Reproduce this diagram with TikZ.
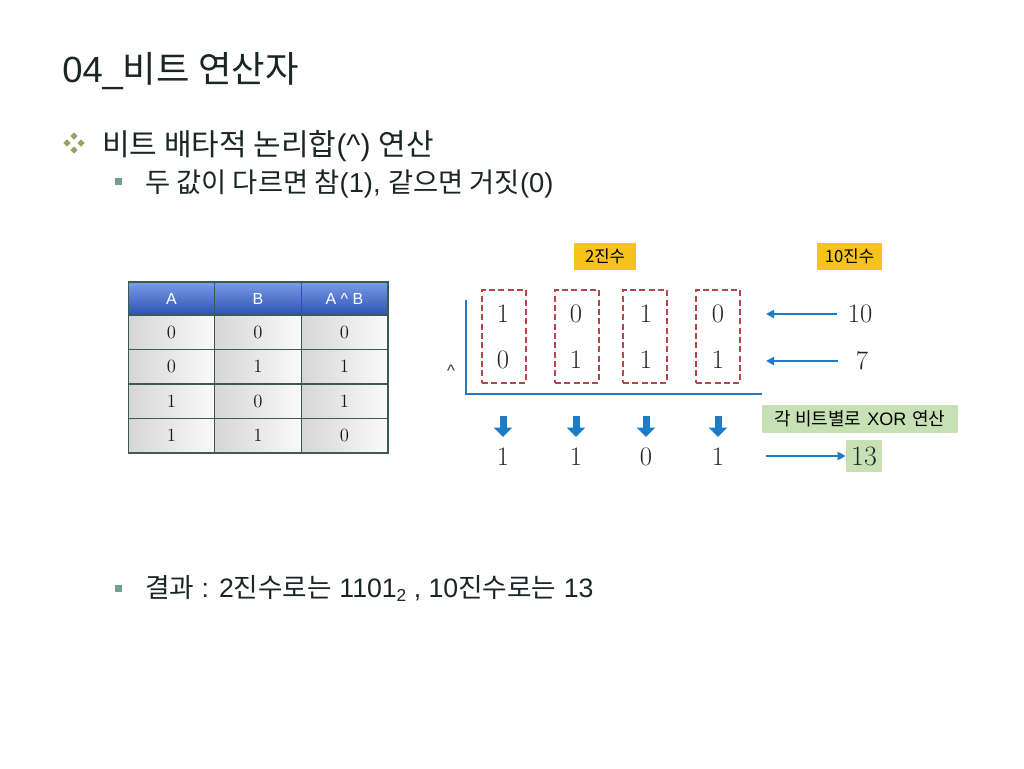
\documentclass[tikz,border=0pt]{standalone}
\usepackage{fontspec}
\setsansfont{Liberation Sans}
\newfontfamily\kr{Noto Sans CJK KR}
\usetikzlibrary{arrows.meta,shapes.geometric}
\definecolor{titlec}{HTML}{1A2626}
\definecolor{olivec}{HTML}{97A26A}
\definecolor{tealc}{HTML}{72A08E}
\definecolor{tborder}{HTML}{3B5B52}
\definecolor{hdtop}{HTML}{7A9BE8}
\definecolor{hdbot}{HTML}{2D53B0}
\definecolor{cellL}{HTML}{D6D6D6}
\definecolor{cellR}{HTML}{FAFAFA}
\definecolor{yboxc}{HTML}{F6C21B}
\definecolor{gboxc}{HTML}{C7E1B5}
\definecolor{arrowb}{HTML}{1E7CC6}
\definecolor{dredc}{HTML}{B8434A}
\tikzset{
  txt/.style={inner sep=0pt, anchor=base west, text=titlec, font=\sffamily},
  dia/.style={diamond, fill=olivec, minimum size=5.5pt, inner sep=0pt},
  sq/.style={rectangle, fill=tealc, minimum size=5.25pt, inner sep=0pt},
  hcell/.style={draw=tborder, line width=1.1pt, minimum width=64.9pt, minimum height=24.75pt, inner sep=0pt,
    top color=hdtop, bottom color=hdbot, text=white, font=\sffamily\fontsize{12}{14}\selectfont},
  cell/.style={draw=tborder, line width=1.1pt, minimum width=64.9pt, minimum height=25.9pt, inner sep=0pt,
    left color=cellL, right color=cellR, text=black!90, font=\fontsize{14}{16}\selectfont},
  dbox/.style={draw=dredc, dashed, dash pattern=on 4.5pt off 2.5pt, line width=1pt, minimum width=33pt, minimum height=69.75pt, inner sep=0pt},
  dig/.style={inner sep=0pt, text=black!85, font=\fontsize{20}{24}\selectfont},
  ylab/.style={fill=yboxc, minimum width=46.5pt, minimum height=20.25pt, inner sep=0pt, font=\kr\fontsize{12.5}{14}\selectfont},
  glab/.style={fill=gboxc, minimum width=147pt, minimum height=21pt, inner sep=0pt, font=\fontsize{13.5}{15}\selectfont},
  bline/.style={draw=arrowb, line width=1.5pt},
  barrow/.style={draw=arrowb, line width=1.4pt, -{Triangle[length=6pt, width=6pt]}},
  darrow/.style={draw=arrowb, line width=5.25pt, -{Triangle[length=7pt, width=13.5pt]}}
}
\begin{document}
\begin{tikzpicture}[x=0.75pt,y=-0.75pt]
\useasboundingbox[fill=white] (0,0) rectangle (1024,768);

% title
\node[txt, font=\sffamily\fontsize{27.3}{30}\selectfont] (title) at (62,82) {04\_{\kr 비트 연산자}};

% bullet 1
\node[dia] (b1a) at (74,136) {};
\node[dia] (b1b) at (67,143) {};
\node[dia] (b1c) at (81,143) {};
\node[dia] (b1d) at (74,150) {};
\node[txt, font=\sffamily\fontsize{22.5}{26}\selectfont] (l1) at (102,155) {{\kr 비트 배타적 논리합}(\textasciicircum) {\kr 연산}};

% bullet 2
\node[sq] (b2) at (118.5,181.5) {};
\node[txt, font=\sffamily\fontsize{20.5}{24}\selectfont] (l2) at (145,192) {{\kr 두 값이 다르면 참}(1), {\kr 같으면 거짓}(0)};

% table
\node[hcell] (hA) at (171.5,298.5) {A};
\node[hcell] (hB) at (258,298.5) {B};
\node[hcell] (hC) at (344.5,298.5) {A \textasciicircum{} B};
\node[cell] (r1a) at (171.5,332.25) {0};
\node[cell] (r1b) at (258,332.25) {0};
\node[cell] (r1c) at (344.5,332.25) {0};
\node[cell] (r2a) at (171.5,366.75) {0};
\node[cell] (r2b) at (258,366.75) {1};
\node[cell] (r2c) at (344.5,366.75) {1};
\node[cell] (r3a) at (171.5,401.25) {1};
\node[cell] (r3b) at (258,401.25) {0};
\node[cell] (r3c) at (344.5,401.25) {1};
\node[cell] (r4a) at (171.5,435.75) {1};
\node[cell] (r4b) at (258,435.75) {1};
\node[cell] (r4c) at (344.5,435.75) {0};

% labels
\node[ylab] (bin) at (605,256.5) {2진수};
\node[ylab, minimum width=48.75pt] (dec) at (849.5,256.5) {10진수};

% dashed boxes
\node[dbox] (c1) at (504,336.5) {};
\node[dbox] (c2) at (577,336.5) {};
\node[dbox] (c3) at (645,336.5) {};
\node[dbox] (c4) at (718,336.5) {};

% digits
\node[dig] (a1) at (503,314) {1};
\node[dig] (a2) at (576,314) {0};
\node[dig] (a3) at (646,314) {1};
\node[dig] (a4) at (718,314) {0};
\node[dig] (b1) at (503,360) {0};
\node[dig] (b2d) at (576,360) {1};
\node[dig] (b3) at (646,360) {1};
\node[dig] (b4) at (718,360) {1};

% operator and lines
\node[inner sep=0pt, anchor=base, font=\sffamily\fontsize{12.5}{14}\selectfont, text=black!80] (caret) at (451,376) {\textasciicircum};
\coordinate (vtop) at (466,300);
\coordinate (corner) at (466,394);
\coordinate (hend) at (762,394);
\draw[bline] (vtop) -- (corner) -- (hend);

% decimal values
\node[dig] (ten) at (860,314) {10};
\node[dig] (seven) at (862,361) {7};
\coordinate (t1) at (766,314);
\coordinate (t2) at (766,361);
\draw[barrow] ([xshift=-8pt]ten.west) -- (ten.west -| t1);
\draw[barrow] ([xshift=-13.5pt]seven.west) -- (seven.west -| t2);

% xor label
\node[glab] (xor) at (860,419) {{\kr 각 비트별로} {\sffamily XOR} {\kr 연산}};

% down arrows
\foreach \i/\x in {1/503,2/576,3/646,4/718}{
  \coordinate (ds\i) at (\x,416);
  \coordinate (de\i) at (\x,437);
  \draw[darrow] (ds\i) -- (de\i);
}

% result digits
\node[dig] (s1) at (503,457) {1};
\node[dig] (s2) at (576,457) {1};
\node[dig] (s3) at (646,457) {0};
\node[dig] (s4) at (718,457) {1};
\node[fill=gboxc, minimum width=27pt, minimum height=24pt, inner sep=0pt, text=black!85, font=\fontsize{21}{24}\selectfont] (thirteen) at (864,456) {13};
\coordinate (rs) at (766,456);
\draw[barrow] (rs) -- (rs -| thirteen.west);

% bottom bullet
\node[sq] (b3q) at (118.5,588) {};
\node[txt, font=\sffamily\fontsize{20}{24}\selectfont] (l3) at (145,597) {{\kr 결과} : 2{\kr 진수로는} 1101\raisebox{-0.35ex}{\fontsize{13}{13}\selectfont 2} , 10{\kr 진수로는} 13};
\end{tikzpicture}
\end{document}
